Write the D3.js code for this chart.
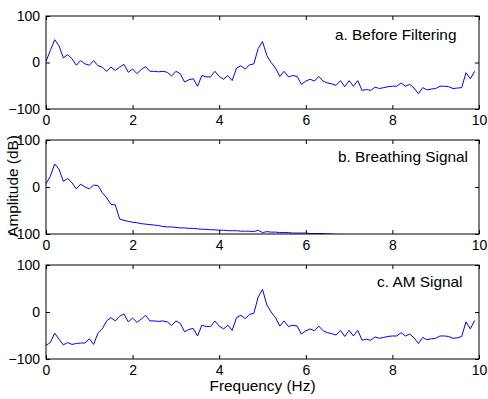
<!DOCTYPE html>
<html>
<head>
<meta charset="utf-8">
<script src="https://cdnjs.cloudflare.com/ajax/libs/d3/7.8.5/d3.min.js"></script>
<style>
body{margin:0;background:#fff}
text{font-family:"Liberation Sans",Arial,sans-serif;fill:#000}
</style>
</head>
<body>
<div class="mainView"></div>
<script>
// spectra, 0..9.9 Hz in steps of 0.1 Hz
let freqStep = 0.1
let beforeFiltering = [
    2, 26, 49, 36, 10, 17, 8, -6, 4, -3,
    -6, 4, -7, -10, -19, -10, -17, -10, -4, -21,
    -14, -24, -15, -9, -19, -19, -20, -19, -21, -29,
    -19, -24, -42, -37, -35, -51, -28, -31, -31, -19,
    -30, -36, -28, -39, -12, -7, -14, -5, -3, 30,
    45, 15, 0, -12, -30, -19, -31, -28, -30, -47,
    -40, -36, -40, -30, -40, -44, -46, -49, -39, -52,
    -39, -51, -39, -60, -58, -60, -53, -56, -54, -52,
    -51, -51, -44, -51, -47, -55, -67, -54, -59, -57,
    -56, -51, -51, -52, -56, -55, -54, -22, -35, -19
]
let breathingSignal = [
    7, 23, 49, 38, 12, 18, 9, -4, 6, 0,
    -4, 4, 3, -12, -23, -37, -38, -68, -71, -73,
    -75, -76, -78, -79, -80, -81, -82, -84, -85, -85,
    -86, -87, -87, -88, -88, -89, -90, -90, -91, -91,
    -92, -92, -93, -93, -93, -94, -94, -94, -95, -92,
    -97, -95, -96, -96, -97, -97, -97, -98, -98, -98,
    -98, -99, -99, -99, -99, -100, -100, -101, -101, -102,
    -102, -102, -103, -103, -103, -104, -104, -104, -105, -105,
    -105, -106, -106, -106, -107, -107, -107, -108, -108, -108,
    -108, -109, -109, -109, -109, -110, -110, -110, -110, -110
]
let amSignal = [
    -71, -65, -45, -58, -70, -65, -69, -67, -66, -66,
    -57, -69, -45, -36, -19, -12, -19, -9, -4, -21,
    -13, -22, -15, -7, -19, -19, -20, -19, -21, -29,
    -19, -24, -42, -37, -35, -51, -28, -31, -31, -19,
    -30, -36, -28, -39, -12, -7, -14, -5, -3, 32,
    48, 15, 0, -12, -30, -19, -31, -28, -30, -47,
    -40, -36, -40, -30, -40, -44, -46, -49, -39, -52,
    -39, -51, -39, -60, -58, -60, -53, -56, -54, -52,
    -51, -51, -44, -51, -47, -55, -67, -54, -59, -57,
    -56, -51, -51, -52, -56, -55, -52, -21, -36, -18
]
let seriesList = [beforeFiltering, breathingSignal, amSignal]
let panelLabels = ["a. Before Filtering", "b. Breathing Signal", "c. AM Signal"]
let xTicks = [0, 2, 4, 6, 8, 10]
let yTicks = [-100, 0, 100]

function getConfig(){
    let width = 488
    let height = 399
    let left = 46, right = 479
    let panels = [
        {top: 16, bottom: 109, labelX: 335, labelY: 40},
        {top: 140, bottom: 234, labelX: 338, labelY: 162},
        {top: 265, bottom: 359, labelX: 377, labelY: 287}
    ]
    let svg = d3.select(".mainView")
        .append("svg")
        .attr("width", width)
        .attr("height", height)
    svg.append("rect").attr("width", width).attr("height", height).attr("fill", "#fff")
    return {width, height, left, right, panels, svg}
}

function drawPanel(config, i){
    let {svg, left, right} = config
    let p = config.panels[i]
    let data = seriesList[i].map((v, k) => ({f: k * freqStep, v: v}))

    let xScale = d3.scaleLinear().domain([0, 10]).range([left, right])
    let yScale = d3.scaleLinear().domain([-100, 100]).range([p.bottom, p.top])

    let g = svg.append("g")

    g.append("clipPath").attr("id", "clip" + i)
        .append("rect")
        .attr("x", left).attr("y", p.top)
        .attr("width", right - left).attr("height", p.bottom - p.top)

    let line = d3.line().x(d => xScale(d.f)).y(d => yScale(d.v))
    g.append("path")
        .datum(data)
        .attr("clip-path", "url(#clip" + i + ")")
        .attr("d", line)
        .attr("fill", "none")
        .attr("stroke", "#0000ff")
        .attr("stroke-width", 1)

    let bottomAxis = d3.axisBottom(xScale).tickValues(xTicks).tickSizeInner(-4).tickSizeOuter(0).tickPadding(6)
    let topAxis = d3.axisTop(xScale).tickValues(xTicks).tickSizeInner(-4).tickSizeOuter(0).tickFormat("")
    let leftAxis = d3.axisLeft(yScale).tickValues(yTicks).tickSizeInner(-4).tickSizeOuter(0).tickPadding(6)
    let rightAxis = d3.axisRight(yScale).tickValues(yTicks).tickSizeInner(-4).tickSizeOuter(0).tickFormat("")

    let axes = [
        [bottomAxis, "translate(0," + p.bottom + ")"],
        [topAxis, "translate(0," + p.top + ")"],
        [leftAxis, "translate(" + left + ",0)"],
        [rightAxis, "translate(" + right + ",0)"]
    ]
    axes.forEach(a => {
        let ag = g.append("g").attr("transform", a[1]).call(a[0])
        ag.select(".domain").remove()
        ag.selectAll("line").attr("stroke", "#000")
        ag.selectAll("text").style("font-size", "14px").style("font-family", '"Liberation Sans",Arial,sans-serif').attr("fill", "#000")
    })

    g.append("rect")
        .attr("x", left).attr("y", p.top)
        .attr("width", right - left).attr("height", p.bottom - p.top)
        .attr("fill", "none")
        .attr("stroke", "#000")
        .attr("stroke-width", 1)

    g.append("text")
        .attr("transform", "translate(" + p.labelX + "," + p.labelY + ") scale(1.1,1)")
        .style("font-size", "14px")
        .text(panelLabels[i])
}

function drawTitles(config){
    let {svg, left, right} = config
    svg.append("text")
        .attr("transform", "translate(" + ((left + right) / 2) + ",391) scale(1.1,1)")
        .attr("text-anchor", "middle")
        .style("font-size", "14px")
        .text("Frequency (Hz)")
    svg.append("text")
        .attr("transform", "translate(18,186) rotate(-90) scale(1.1,1)")
        .attr("text-anchor", "middle")
        .style("font-size", "14px")
        .text("Amplitude (dB)")
}

let config = getConfig()
seriesList.forEach((s, i) => drawPanel(config, i))
drawTitles(config)
</script>
</body>
</html>
